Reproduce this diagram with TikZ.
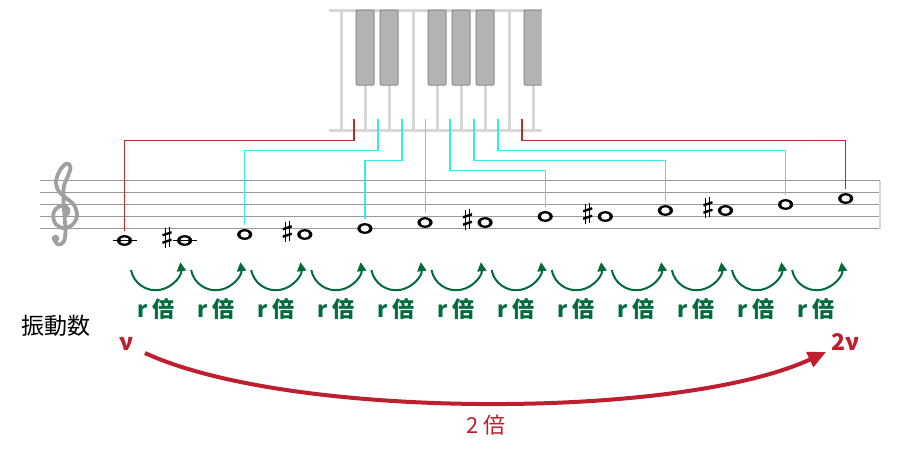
\documentclass[tikz,border=0pt]{standalone}
\usepackage{fontspec}
\setmainfont{Noto Sans CJK JP}
\usetikzlibrary{positioning, shapes.geometric, arrows.meta}
\definecolor{keygray}{HTML}{D7D7D7}
\definecolor{keydark}{HTML}{B3B3B3}
\definecolor{keyedge}{HTML}{8C8C8C}
\definecolor{stafgray}{HTML}{999999}
\definecolor{clefgray}{HTML}{A0A0A0}
\definecolor{wirered}{HTML}{C4262E}
\definecolor{wirecyan}{HTML}{35EDED}
\definecolor{stepgreen}{HTML}{006B3C}
\definecolor{octred}{HTML}{BE1E2D}
\tikzset{
	keyline/.style={
			draw=keygray,
			line width=1.5pt
		},
	blackkey/.style={
			draw=keyedge,
			fill=keydark,
			line width=0.5pt,
			rounded corners=0.5pt
		},
	staffline/.style={
			draw=stafgray,
			line width=0.65pt
		},
	clefline/.style={
			draw=clefgray,
			line width=1.9pt,
			line cap=round,
			line join=round
		},
	notehead/.style={
			shape=ellipse,
			fill=black,
			minimum width=7.6pt,
			minimum height=5.4pt,
			inner sep=0pt,
			path picture={
					\fill[white, rotate around={-30:(path picture bounding box.center)}]
					(path picture bounding box.center) ellipse (2.15pt and 1.6pt);
				}
		},
	sharpsign/.style={
			shape=rectangle,
			minimum width=4.6pt,
			minimum height=10.8pt,
			inner sep=0pt,
			yshift=1.5pt,
			path picture={
					\begin{scope}[shift={(path picture bounding box.center)}]
						\draw[line width=0.45pt] (-1pt,-5.4pt) -- (-1pt,4.6pt);
						\draw[line width=0.45pt] (1pt,-4.6pt) -- (1pt,5.4pt);
						\draw[line width=1.2pt] (-2.3pt,-2.6pt) -- (2.3pt,-1.1pt);
						\draw[line width=1.2pt] (-2.3pt,1.1pt) -- (2.3pt,2.6pt);
					\end{scope}
				}
		},
	ledger/.style={
			draw=black,
			line width=0.6pt
		},
	redwire/.style={
			draw=wirered,
			line width=0.65pt,
			shorten >=2pt
		},
	cyanwire/.style={
			draw=wirecyan,
			line width=0.65pt,
			shorten >=2pt
		},
	rstep/.style={
			draw=stepgreen,
			line width=1pt,
			-{Triangle[length=4.5pt,width=4.5pt]}
		},
	rlabel/.style={
			text=stepgreen,
			font=\fontsize{11}{11}\selectfont\bfseries
		},
	octlabel/.style={
			text=octred,
			font=\fontsize{11.5}{11.5}\selectfont\bfseries
		},
	octarrow/.style={
			draw=octred,
			line width=2pt,
			-{Triangle[length=9pt,width=8pt]}
		}
}

\begin{document}
\begin{tikzpicture}[x=0.5pt, y=0.5pt]
	\useasboundingbox (0,0) rectangle (920,-450);

	% keyboard
	\begin{scope}
		\clip (329,-5) rectangle (541.5,-135);
		\draw[keyline] (329,-10) -- (545,-10);
		\draw[keyline] (329,-130) -- (545,-130);
		\draw[keyline] (341,-10) -- (341,-130);
		\draw[keyline] (413,-10) -- (413,-130);
		\draw[keyline] (509,-10) -- (509,-130);
		\draw[keyline] (365,-85) -- (365,-130);
		\draw[keyline] (389,-85) -- (389,-130);
		\draw[keyline] (437,-85) -- (437,-130);
		\draw[keyline] (461,-85) -- (461,-130);
		\draw[keyline] (485,-85) -- (485,-130);
		\draw[keyline] (533,-85) -- (533,-130);
		\draw[blackkey] (356,-10) rectangle (374,-85);
		\draw[blackkey] (380,-10) rectangle (398,-85);
		\draw[blackkey] (428,-10) rectangle (446,-85);
		\draw[blackkey] (452,-10) rectangle (470,-85);
		\draw[blackkey] (476,-10) rectangle (494,-85);
		\draw[blackkey] (524,-10) rectangle (542,-85);
	\end{scope}

	\coordinate (k1) at (354,-119);
	\coordinate (k2) at (378,-119);
	\coordinate (k3) at (402,-119);
	\coordinate (k4) at (425.5,-119);
	\coordinate (k5) at (450,-119);
	\coordinate (k6) at (474,-119);
	\coordinate (k7) at (498,-119);
	\coordinate (k8) at (522,-119);

	% staff
	\draw[staffline] (40,-180.5) -- (880,-180.5);
	\draw[staffline] (40,-192.5) -- (880,-192.5);
	\draw[staffline] (40,-204.5) -- (880,-204.5);
	\draw[staffline] (40,-216.5) -- (880,-216.5);
	\draw[staffline] (40,-228.5) -- (880,-228.5);
	\draw[draw=keygray, line width=1pt] (880,-180.5) -- (880,-228.5);

	% treble clef
	\draw[clefline] plot[smooth, tension=0.6] coordinates {
			(64,-217) (68.5,-212) (66,-206.5) (59,-206.5) (53.5,-213)
			(55,-223) (63,-228) (72,-225) (77,-216) (74,-205)
			(66,-198) (58.5,-191) (56,-182) (59.5,-171) (66.5,-163.5)
			(70.5,-167) (68,-176) (64,-186) (63.5,-200) (64.5,-216)
			(65.5,-232) (63.5,-242) (58,-244.5) (54.5,-240)
		};
	\fill[clefgray] (55.5,-238.5) circle (3.8);

	\node[notehead] (n1) at (124.5,-240.5) {};
	\node[notehead] (n2) at (184.6,-240.5) {};
	\node[notehead] (n3) at (244.7,-234.5) {};
	\node[notehead] (n4) at (304.8,-234.5) {};
	\node[notehead] (n5) at (364.9,-228.5) {};
	\node[notehead] (n6) at (425.0,-222.5) {};
	\node[notehead] (n7) at (485.1,-222.5) {};
	\node[notehead] (n8) at (545.2,-216.5) {};
	\node[notehead] (n9) at (605.3,-216.5) {};
	\node[notehead] (n10) at (665.4,-210.5) {};
	\node[notehead] (n11) at (725.5,-210.5) {};
	\node[notehead] (n12) at (785.6,-204.5) {};
	\node[notehead] (n13) at (845.7,-198.5) {};

	\draw[ledger] ([xshift=-6pt]n1.center) -- ([xshift=6pt]n1.center);
	\draw[ledger] ([xshift=-6pt]n2.center) -- ([xshift=6pt]n2.center);

	\node[sharpsign, left=2.3pt of n2] (h2) {};
	\node[sharpsign, left=2.3pt of n4] (h4) {};
	\node[sharpsign, left=2.3pt of n7] (h7) {};
	\node[sharpsign, left=2.3pt of n9] (h9) {};
	\node[sharpsign, left=2.3pt of n11] (h11) {};

	% keys to notes
	\draw[redwire] (k1) -- ++(0,-21.5) -| (n1.north);
	\draw[cyanwire] (k2) -- ++(0,-31.5) -| (n3.north);
	\draw[cyanwire] (k3) -- ++(0,-41.5) -| (n5.north);
	\draw[cyanwire] (k4) -- (k4 |- n6.north);
	\draw[cyanwire] (k5) -- ++(0,-51.5) -| (n8.north);
	\draw[cyanwire] (k6) -- ++(0,-41.5) -| (n10.north);
	\draw[cyanwire] (k7) -- ++(0,-31.5) -| (n12.north);
	\draw[redwire] (k8) -- ++(0,-21.5) -| (n13.north);

	% ratio steps
	\coordinate (s1) at (131.0,-270);
	\coordinate (s2) at (191.1,-270);
	\coordinate (s3) at (251.2,-270);
	\coordinate (s4) at (311.3,-270);
	\coordinate (s5) at (371.4,-270);
	\coordinate (s6) at (431.5,-270);
	\coordinate (s7) at (491.6,-270);
	\coordinate (s8) at (551.7,-270);
	\coordinate (s9) at (611.8,-270);
	\coordinate (s10) at (671.9,-270);
	\coordinate (s11) at (732.0,-270);
	\coordinate (s12) at (792.1,-270);
	\draw[rstep] (s1) arc[start angle=191, end angle=367, radius=25];
	\draw[rstep] (s2) arc[start angle=191, end angle=367, radius=25];
	\draw[rstep] (s3) arc[start angle=191, end angle=367, radius=25];
	\draw[rstep] (s4) arc[start angle=191, end angle=367, radius=25];
	\draw[rstep] (s5) arc[start angle=191, end angle=367, radius=25];
	\draw[rstep] (s6) arc[start angle=191, end angle=367, radius=25];
	\draw[rstep] (s7) arc[start angle=191, end angle=367, radius=25];
	\draw[rstep] (s8) arc[start angle=191, end angle=367, radius=25];
	\draw[rstep] (s9) arc[start angle=191, end angle=367, radius=25];
	\draw[rstep] (s10) arc[start angle=191, end angle=367, radius=25];
	\draw[rstep] (s11) arc[start angle=191, end angle=367, radius=25];
	\draw[rstep] (s12) arc[start angle=191, end angle=367, radius=25];

	\node[rlabel] (r1) at (156.0,-309) {r 倍};
	\node[rlabel] (r2) at (216.0,-309) {r 倍};
	\node[rlabel] (r3) at (276.0,-309) {r 倍};
	\node[rlabel] (r4) at (336.0,-309) {r 倍};
	\node[rlabel] (r5) at (396.0,-309) {r 倍};
	\node[rlabel] (r6) at (456.0,-309) {r 倍};
	\node[rlabel] (r7) at (516.0,-309) {r 倍};
	\node[rlabel] (r8) at (576.0,-309) {r 倍};
	\node[rlabel] (r9) at (636.0,-309) {r 倍};
	\node[rlabel] (r10) at (696.0,-309) {r 倍};
	\node[rlabel] (r11) at (756.0,-309) {r 倍};
	\node[rlabel] (r12) at (816.0,-309) {r 倍};

	% frequency
	\node[font=\fontsize{11.5}{11.5}\selectfont] (freq) at (56,-325.5) {振動数};
	\node[octlabel, anchor=base] (nu) at (126,-350) {ν};
	\node[octlabel, anchor=base] (twonu) at (845,-350) {2ν};
	\node[octlabel, font=\fontsize{11}{11}\selectfont] (twice) at (486,-425) {2 倍};

	\coordinate (f1) at (145,-353);
	\coordinate (f2) at (826,-352);
	\draw[octarrow] (f1) .. controls (290,-420) and (680,-420) .. (f2);

\end{tikzpicture}
\end{document}
